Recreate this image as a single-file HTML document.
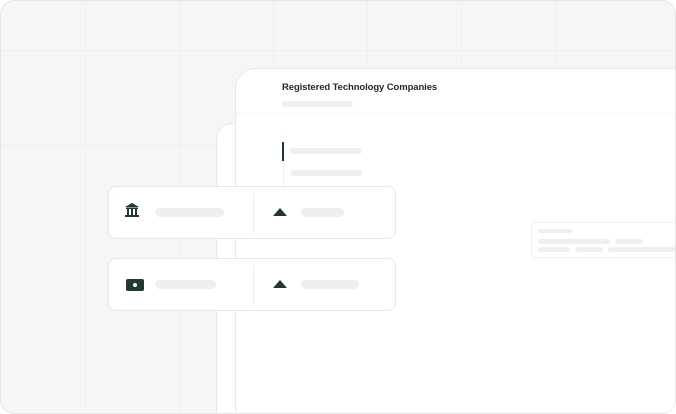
<!DOCTYPE html><html><head><style>
*{box-sizing:border-box}
html,body{margin:0;width:676px;height:414px;overflow:hidden;background:#fff;font-family:"Liberation Sans",sans-serif}
.frame{position:absolute;left:0;top:0;width:676px;height:414px;border:1px solid #e6e6e3;border-radius:14px;background:#f6f6f4;overflow:hidden}
.in{position:absolute;left:-1px;top:-1px;width:676px;height:414px}
.v{position:absolute;top:0;width:1px;height:414px;background:#efefed}
.h{position:absolute;left:0;height:1px;width:676px;background:#efefed}
.p{position:absolute;background:#fff;border:1px solid #e8e8e6}
.bar{position:absolute;height:7px;border-radius:4px;background:#efefee}
.card{position:absolute;left:108px;width:288px;height:53px;background:#fff;border:1px solid #e8e8e6;border-radius:8px}
.tri{position:absolute;width:0;height:0;border-left:7px solid transparent;border-right:7px solid transparent;border-bottom:8px solid #223833}
</style></head><body><div class="frame"><div class="in">
<div class="v" style="left:85px"></div><div class="v" style="left:180px"></div><div class="v" style="left:273px"></div><div class="v" style="left:367px"></div><div class="v" style="left:461px"></div><div class="v" style="left:555px"></div>
<div class="h" style="top:50px"></div><div class="h" style="top:145px"></div>
<div class="p" style="left:216px;top:123px;width:80px;height:320px;border-radius:16px"></div>
<div class="p" style="left:235px;top:68px;width:460px;height:360px;border-radius:20px">
<div style="position:absolute;left:46px;top:13px;font-size:9.5px;color:#1f2a28;font-weight:bold;letter-spacing:-0.1px">Registered Technology Companies</div>
<div class="bar" style="left:46px;top:32px;width:71px;height:6px"></div>
<div style="position:absolute;left:0;right:0;top:44px;border-top:1px dotted #ececec"></div>
<div style="position:absolute;left:46px;top:73px;width:2px;height:19px;background:#223833"></div>
<div style="position:absolute;left:47px;top:92px;width:1px;height:40px;background:#eee"></div>
<div class="bar" style="left:54px;top:79px;width:72px;height:6px"></div>
<div class="bar" style="left:54px;top:101px;width:72px;height:6px"></div>
<div style="position:absolute;left:295px;top:153px;width:160px;height:36px;border:1px solid #eeeeee;border-radius:4px">
<div class="bar" style="left:6px;top:6px;width:34px;height:4px"></div>
<div class="bar" style="left:6px;top:16px;width:72px;height:5px"></div>
<div class="bar" style="left:83px;top:16px;width:28px;height:5px"></div>
<div class="bar" style="left:6px;top:24px;width:32px;height:5px"></div>
<div class="bar" style="left:43px;top:24px;width:28px;height:5px"></div>
<div class="bar" style="left:76px;top:24px;width:80px;height:5px"></div>
</div></div>
<div class="card" style="top:186px">
<svg style="position:absolute;left:15px;top:15px" width="16" height="16" viewBox="0 0 16 16"><path d="M8 1L1 5h14z M2 5.5h12v1.5H2z M3 7h2v6H3z M7 7h2v6H7z M11 7h2v6h-2z M1 13h14v2H1z" fill="#223833"/></svg>
<div class="bar" style="left:46px;top:21px;width:69px;height:9px;border-radius:5px"></div>
<div style="position:absolute;left:144px;top:6px;width:1px;height:41px;background:#ececec"></div>
<div class="tri" style="left:164px;top:21px"></div>
<div class="bar" style="left:192px;top:21px;width:43px;height:9px;border-radius:5px"></div>
</div>
<div class="card" style="top:258px">
<div style="position:absolute;left:17px;top:20px;width:18px;height:12px;border-radius:2px;background:#223833"></div>
<div style="position:absolute;left:24px;top:24px;width:4px;height:4px;border-radius:50%;background:#fff"></div>
<div class="bar" style="left:46px;top:21px;width:61px;height:9px;border-radius:5px"></div>
<div style="position:absolute;left:144px;top:6px;width:1px;height:41px;background:#ececec"></div>
<div class="tri" style="left:164px;top:21px"></div>
<div class="bar" style="left:192px;top:21px;width:58px;height:9px;border-radius:5px"></div>
</div>
</div></div></body></html>
